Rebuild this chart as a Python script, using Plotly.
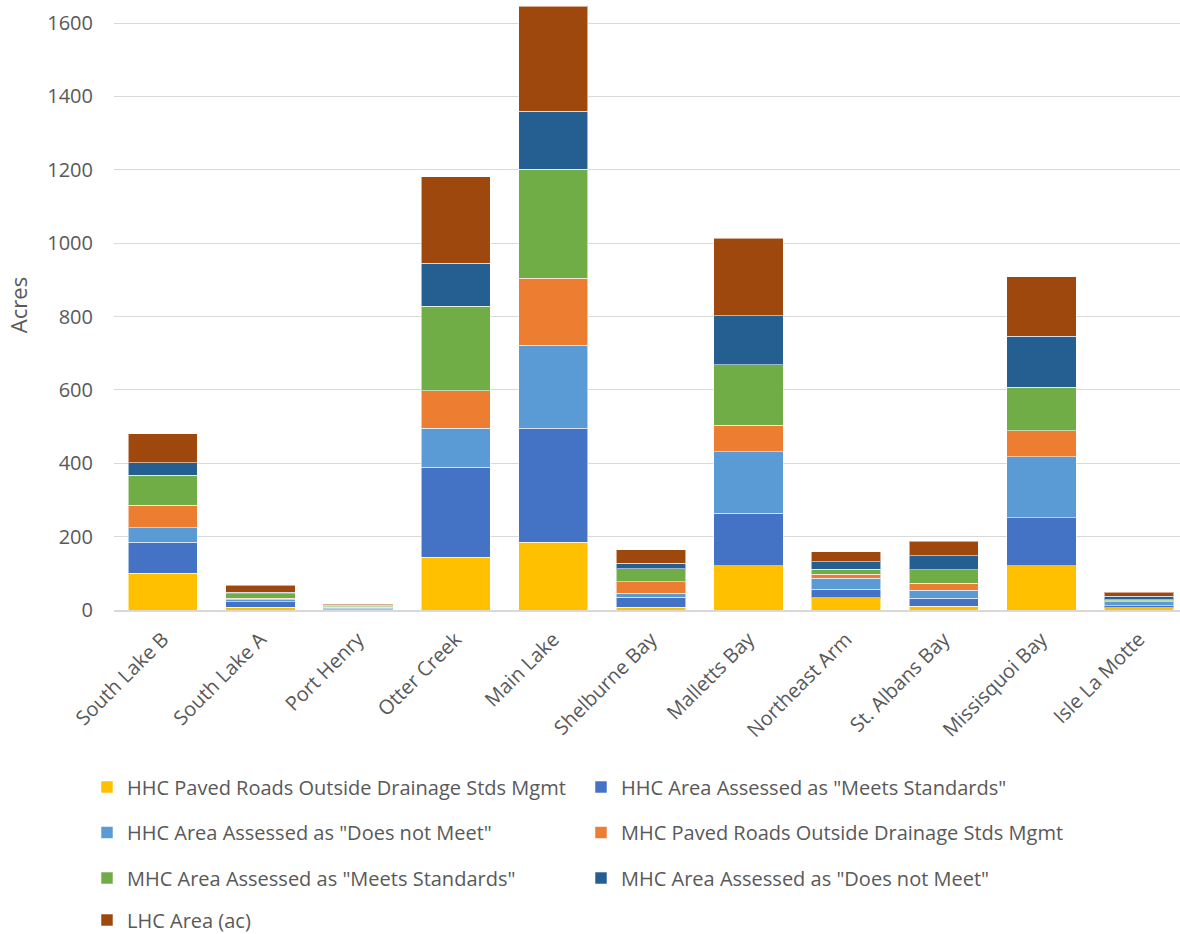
import plotly.graph_objects as go

# Lake segments (x-axis categories)
segments = ["South Lake B", "South Lake A", "Port Henry", "Otter Creek", "Main Lake",
            "Shelburne Bay", "Malletts Bay", "Northeast Arm", "St. Albans Bay",
            "Missisquoi Bay", "Isle La Motte"]

# Stacked components, acres per segment
hhc_paved_outside = [100, 8, 1, 144, 185, 7, 121, 34, 10, 120, 6]
hhc_meets = [85, 14, 3, 245, 311, 28, 143, 23, 22, 131, 5]
hhc_does_not_meet = [39, 6, 4, 106, 226, 11, 168, 30, 22, 167, 12]
mhc_paved_outside = [61, 4, 1, 103, 182, 31, 72, 10, 19, 71, 2]
mhc_meets = [82, 12, 3, 230, 298, 35, 164, 14, 37, 118, 3]
mhc_does_not_meet = [34, 5, 1, 117, 158, 15, 134, 20, 38, 139, 10]
lhc_area = [80, 19, 3, 236, 286, 37, 212, 28, 39, 163, 10]

series = [
    ("HHC Paved Roads Outside Drainage Stds Mgmt", hhc_paved_outside, "#FFC000", "legend"),
    ('HHC Area Assessed as "Meets Standards"', hhc_meets, "#4472C4", "legend"),
    ('HHC Area Assessed as "Does not Meet"', hhc_does_not_meet, "#5B9BD5", "legend2"),
    ("MHC Paved Roads Outside Drainage Stds Mgmt", mhc_paved_outside, "#ED7D31", "legend2"),
    ('MHC Area Assessed as "Meets Standards"', mhc_meets, "#70AD47", "legend3"),
    ('MHC Area Assessed as "Does not Meet"', mhc_does_not_meet, "#255E91", "legend3"),
    ("LHC Area (ac)", lhc_area, "#9E480E", "legend4"),
]

FONT = "Open Sans"
GREY = "#595959"

fig = go.Figure()
for name, vals, color, leg in series:
    fig.add_trace(go.Bar(
        x=segments, y=vals, name=name, legend=leg,
        marker=dict(color=color, line=dict(color="rgba(255,255,255,0.55)", width=1)),
    ))

W, H = 1180, 934
ML, MT, MB = 114, 0, 324


def legend_row(py):
    # one-row horizontal legend centred on pixel row py (container coordinates)
    return dict(
        orientation="h", xref="container", yref="container",
        x=87 / W, xanchor="left",
        y=(H - py) / H, yanchor="middle",
        entrywidth=449, entrywidthmode="pixels",
        font=dict(family=FONT, size=20, color=GREY),
        bgcolor="rgba(0,0,0,0)", traceorder="normal",
    )


fig.update_layout(
    width=W, height=H,
    margin=dict(l=ML, r=0, t=MT, b=MB),
    barmode="stack", bargap=0.29,
    plot_bgcolor="white", paper_bgcolor="white",
    font=dict(family=FONT, size=20, color=GREY),
    legend=legend_row(787),
    legend2=legend_row(832.5),
    legend3=legend_row(878),
    legend4=legend_row(920),
    xaxis=dict(
        type="category", range=[-0.5, 10.42],
        tickangle=-45, showgrid=False, showline=True, linecolor="#D9D9D9", linewidth=1.5,
        tickfont=dict(family=FONT, size=20, color=GREY), ticks="", ticklabelstandoff=8,
    ),
    yaxis=dict(
        range=[0, 1663], tickvals=[0, 200, 400, 600, 800, 1000, 1200, 1400, 1600],
        showgrid=True, gridcolor="#D9D9D9", gridwidth=1.3, zeroline=False,
        tickfont=dict(family=FONT, size=20, color=GREY), ticks="", ticklabelstandoff=20,
        title=dict(text="Acres", font=dict(family=FONT, size=22, color=GREY), standoff=13),
    ),
)

fig.write_html("out.html")
